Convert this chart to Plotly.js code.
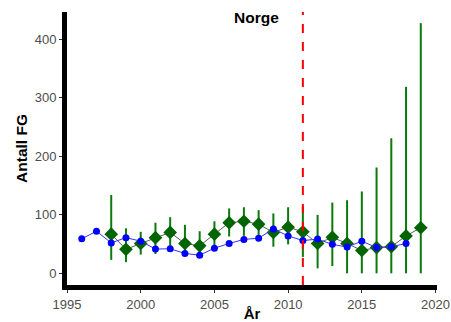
<!DOCTYPE html>
<html>
<head>
<meta charset="utf-8">
<script src="https://cdn.plot.ly/plotly-3.0.1.min.js"></script>
<style>html,body{margin:0;padding:0;background:#fff;}#chart{width:451px;height:322px;}</style>
</head>
<body>
<div id="chart"></div>
<script>
// Blue series (years 1996-2018)
const blueYears = [1996,1997,1998,1999,2000,2001,2002,2003,2004,2005,2006,2007,2008,2009,2010,2011,2012,2013,2014,2015,2016,2017,2018];
const blueValues = [59,72,52,61,55,41.5,42,34,31,43,51,58,60,76,64,56,58.5,49.5,45,55,44,45.5,51];

// Green series with intervals (years 1998-2019)
const greenYears = [1998,1999,2000,2001,2002,2003,2004,2005,2006,2007,2008,2009,2010,2011,2012,2013,2014,2015,2016,2017,2018,2019];
const greenValues = [67,41,51,61,70,51,47,67,86.5,89,84,70,79,71,51,61.5,51,39,44,45.5,64,78];
const greenUpper  = [134,77,71,86.5,96,83,72,89,111,113,108,102.5,113,114,100,121,125,140,181,231,319,428];
const greenLower  = [23,19,32,33,43,31,31,43,63,64,63,45.5,49.5,28,8.5,12.5,0,0,0,0,0,0];

const xTicks = [1995,2000,2005,2010,2015,2020];
const yTicks = [0,100,200,300,400];
const refYear = 2011;

const errPlus = greenUpper.map((u,i)=>u-greenValues[i]);
const errMinus = greenValues.map((v,i)=>v-greenLower[i]);

const traces = [
  {
    x: greenYears, y: greenValues, type:'scatter', mode:'lines+markers',
    line:{color:'#333333', width:0.8},
    marker:{symbol:'diamond', size:10.5, color:'#006400'},
    error_y:{type:'data', symmetric:false, array:errPlus, arrayminus:errMinus, width:0, thickness:2, color:'#0a7a0a'},
    hoverinfo:'skip'
  },
  {
    x: blueYears, y: blueValues, type:'scatter', mode:'lines+markers',
    line:{color:'#3333ff', width:1},
    marker:{symbol:'circle', size:7, color:'#0000ff'},
    hoverinfo:'skip'
  }
];

const layout = {
  width:451, height:322,
  margin:{l:67, r:14, t:12, b:37},
  paper_bgcolor:'#ffffff', plot_bgcolor:'#ffffff',
  showlegend:false,
  font:{family:'Liberation Sans, Arial, sans-serif'},
  title:{text:'<b>Norge</b>', x:0.512, xref:'paper', xanchor:'center', y:0.945, yanchor:'middle', font:{size:15.5, color:'#000'}},
  xaxis:{
    range:[1995,2020.1], tickvals:xTicks, ticktext:xTicks.map(String),
    showgrid:false, zeroline:false, showline:true, linewidth:5, linecolor:'#000',
    ticks:'outside', ticklen:3, tickwidth:1, tickcolor:'#333',
    tickfont:{size:13, color:'#4d4d4d'},
    title:{text:'<b>År</b>', font:{size:15, color:'#000'}, standoff:3}
  },
  yaxis:{
    range:[-20,447], tickvals:yTicks, ticktext:yTicks.map(String),
    showgrid:false, zeroline:false, showline:true, linewidth:5, linecolor:'#000',
    ticks:'outside', ticklen:3, tickwidth:1, tickcolor:'#333',
    tickfont:{size:13, color:'#4d4d4d'},
    title:{text:'<b>Antall FG</b>', font:{size:15.5, color:'#000'}, standoff:5}
  },
  shapes:[{type:'line', xref:'x', yref:'paper', x0:refYear, x1:refYear, y0:0, y1:1,
    line:{color:'#ff0000', width:2, dash:'dash'}}]
};

Plotly.newPlot('chart', traces, layout, {staticPlot:true, displayModeBar:false});
</script>
</body>
</html>
